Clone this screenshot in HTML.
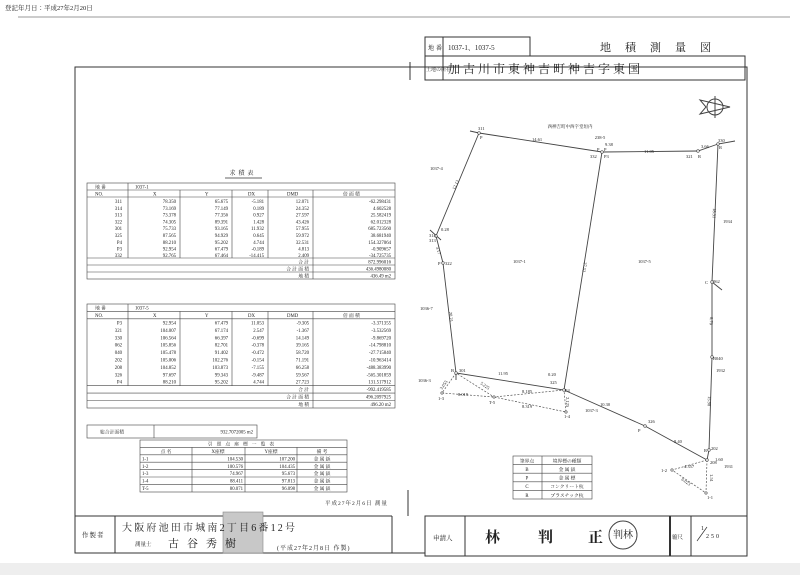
<!DOCTYPE html>
<html><head><meta charset="utf-8"><style>
html,body{margin:0;padding:0;background:#fff}
svg{display:block}
text{font-family:"Liberation Serif","Noto Serif CJK SC",serif;fill:#222}
.j{font-family:"Liberation Serif","Noto Serif CJK JP","Noto Sans CJK JP",serif}
</style></head><body>
<svg width="800" height="575" viewBox="0 0 800 575" xmlns="http://www.w3.org/2000/svg">
<rect x="0" y="563" width="800" height="12" fill="#eeeeee"/>
<text x="5" y="10" font-size="6.5" class="j">登記年月日：平成27年2月20日</text>
<line x1="18" y1="17" x2="790" y2="17" stroke="#999" stroke-width="1"/>

<!-- header -->
<g stroke="#333" stroke-width="1" fill="none">
<rect x="425" y="37" width="105" height="19"/>
<line x1="443" y1="37" x2="443" y2="80"/>
<rect x="425" y="56" width="320" height="24"/>
<line x1="410" y1="62" x2="410" y2="80"/>
<rect x="75" y="67" width="672" height="486"/>
<line x1="75" y1="516" x2="392" y2="516"/>
<line x1="392" y1="516" x2="392" y2="553"/>
<line x1="115" y1="516" x2="115" y2="553"/>
<line x1="408" y1="490" x2="408" y2="516"/>
<rect x="425" y="516" width="322" height="40" fill="#fff"/>
<line x1="465" y1="516" x2="465" y2="556"/>
<line x1="670" y1="516" x2="670" y2="556" stroke-width="2"/>
<line x1="691" y1="516" x2="691" y2="556"/>
</g>
<text x="428" y="50" font-size="6" class="j">地</text><text x="436" y="50" font-size="6" class="j">番</text>
<text x="448" y="50" font-size="7">1037-1、1037-5</text>
<text x="600" y="51" font-size="11" class="j" letter-spacing="14">地積測量図</text>
<text x="426" y="71" font-size="5" class="j">土地の所在</text>
<text x="448" y="73" font-size="12" class="j" letter-spacing="3">加古川市東神吉町神吉字東国</text>

<!-- compass -->
<g stroke="#444" stroke-width="1" fill="none">
<circle cx="715" cy="107" r="8"/>
<path d="M700 100 L730 107 L700 114 L706 107 Z"/>
<line x1="715" y1="96" x2="715" y2="118"/>
</g>

<!-- table 1 -->
<text x="243" y="175" font-size="6" class="j" text-anchor="middle" letter-spacing="3">求積表</text>
<line x1="225" y1="178" x2="262" y2="178" stroke="#333" stroke-width="0.8"/>
<g stroke="#444" stroke-width="0.6" fill="none">
<rect x="87" y="183" width="308" height="96"/>
<line x1="87" y1="190" x2="395" y2="190"/>
<line x1="87" y1="197" x2="395" y2="197"/>
<line x1="87" y1="258" x2="395" y2="258"/>
<line x1="87" y1="265" x2="395" y2="265"/>
<line x1="87" y1="272" x2="395" y2="272"/>
<line x1="128" y1="183" x2="128" y2="258"/>
<line x1="180" y1="190" x2="180" y2="258"/>
<line x1="232" y1="190" x2="232" y2="258"/>
<line x1="268" y1="190" x2="268" y2="258"/>
<line x1="313" y1="190" x2="313" y2="279"/>
</g>
<g font-size="4.8">
<text x="95" y="188.5" class="j">地 番</text><text x="135" y="188.5">1037-1</text>
<text x="95" y="195.5">NO.</text><text x="153" y="195.5">X</text><text x="205" y="195.5">Y</text><text x="248" y="195.5">DX</text><text x="287" y="195.5">DMD</text><text x="343" y="195.5" class="j">倍 面 積</text>
</g>
<g font-size="4.8" text-anchor="end">
<text x="122" y="203">311</text><text x="176" y="203">78.350</text><text x="228" y="203">65.675</text><text x="264" y="203">-5.181</text><text x="309" y="203">12.071</text><text x="391" y="203">-62.298431</text>
<text x="122" y="209.8">314</text><text x="176" y="209.8">73.169</text><text x="228" y="209.8">77.149</text><text x="264" y="209.8">0.189</text><text x="309" y="209.8">24.352</text><text x="391" y="209.8">4.602528</text>
<text x="122" y="216.6">313</text><text x="176" y="216.6">73.378</text><text x="228" y="216.6">77.356</text><text x="264" y="216.6">0.927</text><text x="309" y="216.6">27.597</text><text x="391" y="216.6">25.582419</text>
<text x="122" y="223.4">322</text><text x="176" y="223.4">74.305</text><text x="228" y="223.4">89.391</text><text x="264" y="223.4">1.428</text><text x="309" y="223.4">43.426</text><text x="391" y="223.4">62.012328</text>
<text x="122" y="230.2">301</text><text x="176" y="230.2">75.733</text><text x="228" y="230.2">93.165</text><text x="264" y="230.2">11.932</text><text x="309" y="230.2">57.955</text><text x="391" y="230.2">685.723560</text>
<text x="122" y="237">325</text><text x="176" y="237">87.565</text><text x="228" y="237">94.929</text><text x="264" y="237">0.645</text><text x="309" y="237">59.972</text><text x="391" y="237">38.681940</text>
<text x="122" y="243.8">P4</text><text x="176" y="243.8">88.210</text><text x="228" y="243.8">95.202</text><text x="264" y="243.8">4.744</text><text x="309" y="243.8">32.531</text><text x="391" y="243.8">154.327064</text>
<text x="122" y="250.6">P3</text><text x="176" y="250.6">92.954</text><text x="228" y="250.6">67.479</text><text x="264" y="250.6">-0.189</text><text x="309" y="250.6">4.813</text><text x="391" y="250.6">-0.909657</text>
<text x="122" y="257.2">332</text><text x="176" y="257.2">92.765</text><text x="228" y="257.2">67.464</text><text x="264" y="257.2">-14.415</text><text x="309" y="257.2">2.409</text><text x="391" y="257.2">-34.725735</text>
<text x="309" y="263.5" class="j">合 計</text><text x="391" y="263.5">872.996016</text>
<text x="309" y="270.5" class="j">合 計 面 積</text><text x="391" y="270.5">436.4980080</text>
<text x="309" y="277.5" class="j">地 積</text><text x="391" y="277.5">436.49 m2</text>
</g>

<!-- table 2 -->
<g stroke="#444" stroke-width="0.6" fill="none">
<rect x="87" y="304" width="308" height="104"/>
<line x1="87" y1="311.4" x2="395" y2="311.4"/>
<line x1="87" y1="318.8" x2="395" y2="318.8"/>
<line x1="87" y1="385.7" x2="395" y2="385.7"/>
<line x1="87" y1="393.1" x2="395" y2="393.1"/>
<line x1="87" y1="400.5" x2="395" y2="400.5"/>
<line x1="128" y1="304" x2="128" y2="385.7"/>
<line x1="180" y1="311.4" x2="180" y2="385.7"/>
<line x1="232" y1="311.4" x2="232" y2="385.7"/>
<line x1="268" y1="311.4" x2="268" y2="385.7"/>
<line x1="313" y1="311.4" x2="313" y2="408"/>
<rect x="87" y="425" width="170" height="13"/>
<line x1="154" y1="425" x2="154" y2="438"/>
</g>
<g font-size="4.8">
<text x="95" y="309.5" class="j">地 番</text><text x="135" y="309.5">1037-5</text>
<text x="95" y="317">NO.</text><text x="153" y="317">X</text><text x="205" y="317">Y</text><text x="248" y="317">DX</text><text x="287" y="317">DMD</text><text x="343" y="317" class="j">倍 面 積</text>
<text x="100" y="433.5" class="j">総合計面積</text>
</g>
<g font-size="4.8" text-anchor="end">
<text x="122" y="324.5">P3</text><text x="176" y="324.5">92.954</text><text x="228" y="324.5">67.479</text><text x="264" y="324.5">11.053</text><text x="309" y="324.5">-9.305</text><text x="391" y="324.5">-3.371355</text>
<text x="122" y="331.9">321</text><text x="176" y="331.9">104.007</text><text x="228" y="331.9">67.174</text><text x="264" y="331.9">2.547</text><text x="309" y="331.9">-1.367</text><text x="391" y="331.9">-3.532569</text>
<text x="122" y="339.3">330</text><text x="176" y="339.3">106.564</text><text x="228" y="339.3">66.397</text><text x="264" y="339.3">-0.699</text><text x="309" y="339.3">14.149</text><text x="391" y="339.3">-9.869720</text>
<text x="122" y="346.7">062</text><text x="176" y="346.7">105.856</text><text x="228" y="346.7">82.701</text><text x="264" y="346.7">-0.378</text><text x="309" y="346.7">39.165</text><text x="391" y="346.7">-14.798810</text>
<text x="122" y="354.1">040</text><text x="176" y="354.1">105.478</text><text x="228" y="354.1">91.402</text><text x="264" y="354.1">-0.472</text><text x="309" y="354.1">58.720</text><text x="391" y="354.1">-27.715840</text>
<text x="122" y="361.5">202</text><text x="176" y="361.5">105.006</text><text x="228" y="361.5">102.276</text><text x="264" y="361.5">-0.154</text><text x="309" y="361.5">71.191</text><text x="391" y="361.5">-10.963414</text>
<text x="122" y="368.9">208</text><text x="176" y="368.9">104.852</text><text x="228" y="368.9">103.873</text><text x="264" y="368.9">-7.155</text><text x="309" y="368.9">66.258</text><text x="391" y="368.9">-488.383990</text>
<text x="122" y="376.3">326</text><text x="176" y="376.3">97.697</text><text x="228" y="376.3">99.343</text><text x="264" y="376.3">-9.487</text><text x="309" y="376.3">59.567</text><text x="391" y="376.3">-565.301859</text>
<text x="122" y="383.7">P4</text><text x="176" y="383.7">88.210</text><text x="228" y="383.7">95.202</text><text x="264" y="383.7">4.744</text><text x="309" y="383.7">27.723</text><text x="391" y="383.7">131.517912</text>
<text x="309" y="391" class="j">合 計</text><text x="391" y="391">-992.419585</text>
<text x="309" y="398.4" class="j">合 計 面 積</text><text x="391" y="398.4">496.2097925</text>
<text x="309" y="405.8" class="j">地 積</text><text x="391" y="405.8">496.20 m2</text>
<text x="253" y="433.5">932.7072005 m2</text>
</g>

<!-- reference table -->
<g stroke="#444" stroke-width="0.6" fill="none">
<rect x="140" y="440" width="207" height="52"/>
<line x1="140" y1="447.4" x2="347" y2="447.4"/>
<line x1="140" y1="454.8" x2="347" y2="454.8"/>
<line x1="140" y1="462.2" x2="347" y2="462.2"/>
<line x1="140" y1="469.6" x2="347" y2="469.6"/>
<line x1="140" y1="477" x2="347" y2="477"/>
<line x1="140" y1="484.4" x2="347" y2="484.4"/>
<line x1="192" y1="447.4" x2="192" y2="492"/>
<line x1="245" y1="447.4" x2="245" y2="492"/>
<line x1="297" y1="447.4" x2="297" y2="492"/>
</g>
<g font-size="4.8" class="j">
<text x="243" y="445.6" text-anchor="middle" letter-spacing="4">引照点座標一覧表</text>
<text x="166" y="453" text-anchor="middle">点 名</text><text x="218" y="453" text-anchor="middle">X座標</text><text x="271" y="453" text-anchor="middle">Y座標</text><text x="322" y="453" text-anchor="middle">備 考</text>
<text x="142" y="460.4">1-1</text><text x="142" y="467.8">1-2</text><text x="142" y="475.2">1-3</text><text x="142" y="482.6">1-4</text><text x="142" y="490">T-5</text>
<g text-anchor="end">
<text x="243" y="460.4">104.530</text><text x="295" y="460.4">107.200</text>
<text x="243" y="467.8">100.576</text><text x="295" y="467.8">104.435</text>
<text x="243" y="475.2">74.967</text><text x="295" y="475.2">95.673</text>
<text x="243" y="482.6">88.411</text><text x="295" y="482.6">97.813</text>
<text x="243" y="490">80.071</text><text x="295" y="490">96.098</text>
</g>
<text x="322" y="460.4" text-anchor="middle">金 属 鋲</text><text x="322" y="467.8" text-anchor="middle">金 属 鋲</text><text x="322" y="475.2" text-anchor="middle">金 属 鋲</text><text x="322" y="482.6" text-anchor="middle">金 属 鋲</text><text x="322" y="490" text-anchor="middle">金 属 鋲</text>
</g>
<text x="325" y="505" font-size="5.5" class="j" letter-spacing="1">平成27年2月6日 測量</text>

<!-- bottom left block -->
<text x="82" y="537" font-size="6.5" class="j" letter-spacing="1">作製者</text>
<rect x="223" y="512" width="40" height="41" fill="#c8c8c8" stroke="#888" stroke-width="0.6"/>
<text x="122" y="531" font-size="10" class="j" letter-spacing="2.2">大阪府池田市城南2丁目6番12号</text>
<text x="135" y="546" font-size="5.5" class="j">測量士</text>
<text x="168" y="547" font-size="11" class="j" letter-spacing="8">古谷秀樹</text>
<text x="277" y="550" font-size="6" class="j" letter-spacing="1">(平成27年2月8日 作製)</text>

<!-- bottom right block -->
<text x="433" y="540" font-size="6.5" class="j">申請人</text>
<text x="485" y="542" font-size="15" class="j" font-weight="bold">林</text>
<text x="538" y="542" font-size="15" class="j" font-weight="bold">判</text>
<text x="588" y="542" font-size="15" class="j" font-weight="bold">正</text>
<circle cx="623" cy="535" r="14" fill="none" stroke="#444" stroke-width="1"/>
<text x="623" y="538" font-size="10" class="j" text-anchor="middle">判林</text>
<text x="672" y="539" font-size="5.5" class="j">縮尺</text>
<text x="701" y="530" font-size="6">1</text>
<line x1="697" y1="541" x2="707" y2="527" stroke="#333" stroke-width="0.7"/>
<text x="706" y="538" font-size="6" letter-spacing="2">250</text>

<!-- plot lines -->
<g stroke="#444" stroke-width="0.9" fill="none">
<polyline points="470,131 479,133 602,152 698,151 718,144 735,141"/>
<polyline points="479,133 436,236 443,263 456,373 564,390 645,426 707,460"/>
<line x1="602" y1="152" x2="564" y2="390"/>
<polyline points="718,144 712,282 712,357 709,450 707,460"/>
<line x1="712" y1="282" x2="722" y2="290"/>
<line x1="430" y1="230" x2="441" y2="240"/>
<line x1="456" y1="373" x2="456" y2="380"/>
</g>
<g stroke="#555" stroke-width="0.7" fill="none" stroke-dasharray="2,1.5">
<polyline points="456,373 442,393 494,397 566,412 564,390 494,397 456,373"/>
<polyline points="707,460 672,470 706,493 707,460"/>
</g>
<g fill="#fff" stroke="#444" stroke-width="0.6">
<circle cx="479" cy="133" r="1.3"/><circle cx="602" cy="152" r="1.3"/><circle cx="698" cy="151" r="1.3"/><circle cx="718" cy="144" r="1.3"/>
<circle cx="436" cy="236" r="1.3"/><circle cx="443" cy="263" r="1.3"/><circle cx="456" cy="373" r="1.3"/><circle cx="564" cy="390" r="1.3"/>
<circle cx="645" cy="426" r="1.3"/><circle cx="712" cy="282" r="1.3"/><circle cx="712" cy="357" r="1.3"/><circle cx="709" cy="450" r="1.3"/><circle cx="707" cy="460" r="1.3"/>
<circle cx="442" cy="393" r="1.2"/><circle cx="494" cy="397" r="1.2"/><circle cx="566" cy="412" r="1.2"/><circle cx="672" cy="470" r="1.2"/><circle cx="706" cy="493" r="1.2"/>
</g>
<g font-size="4.5">
<text x="570" y="128" text-anchor="middle" class="j">西神吉町中西字堂垣内</text>
<text x="600" y="139" text-anchor="middle">238-5</text>
<text x="478" y="130">311</text><text x="480" y="139">P</text>
<text x="532" y="141">14.61</text><text x="605" y="146">9.38</text><text x="644" y="153">11.05</text><text x="701" y="148">3.66</text>
<text x="590" y="158">332</text><text x="597" y="151">P</text><text x="604" y="151">P</text><text x="604" y="158">P3</text>
<text x="686" y="158">321</text><text x="698" y="158">R</text><text x="718" y="142">330</text><text x="719" y="149">R</text>
<text x="430" y="170">1037-4</text><text x="441" y="231">0.28</text><text x="429" y="237">314</text><text x="429" y="242">313</text>
<text x="438" y="265">P</text><text x="445" y="265">322</text>
<text x="513" y="263">1037-1</text><text x="638" y="263">1037-5</text><text x="723" y="223">1934</text>
<text x="705" y="284">C</text><text x="713" y="283">062</text>
<text x="420" y="310">1036-7</text><text x="713" y="360">B</text><text x="716" y="360">040</text>
<text x="716" y="372">1932</text><text x="418" y="382">1036-3</text>
<text x="451" y="372">B</text><text x="459" y="372">301</text>
<text x="498" y="375">11.95</text><text x="548" y="376">0.20</text><text x="550" y="384">325</text><text x="565" y="392">P4</text>
<text x="522" y="393">8.185</text><text x="458" y="396">8.019</text><text x="522" y="408">8.319</text>
<text x="438" y="400">1-3</text><text x="489" y="404">T-5</text><text x="564" y="418">1-4</text>
<text x="585" y="412">1037-3</text><text x="600" y="406">10.30</text>
<text x="638" y="432">P</text><text x="648" y="423">326</text><text x="674" y="443">8.40</text>
<text x="704" y="452">R</text><text x="711" y="450">202</text><text x="715" y="461">1.60</text><text x="724" y="468">1931</text>
<text x="684" y="468">4.357</text><text x="661" y="472">1-2</text><text x="707" y="499">1-1</text><text x="710" y="464">208</text>
</g>
<g font-size="4.5">
<text transform="translate(455,190) rotate(-66)">12.12</text>
<text transform="translate(436,247) rotate(75)">3.17</text>
<text transform="translate(449,312) rotate(84)">20.21</text>
<text transform="translate(584,262) rotate(99)">27.52</text>
<text transform="translate(713,208) rotate(92)">18.31</text>
<text transform="translate(710,317) rotate(92)">8.70</text>
<text transform="translate(708,396) rotate(92)">15.98</text>
<text transform="translate(480,384) rotate(35)">5.225</text>
<text transform="translate(442,390) rotate(-55)">3.055</text>
<text transform="translate(566,397) rotate(90)">2.125</text>
<text transform="translate(681,480) rotate(35)">6.023</text>
<text transform="translate(710,474) rotate(90)">1.51</text>
</g>

<!-- legend -->
<g stroke="#444" stroke-width="0.6" fill="none">
<rect x="513" y="456" width="79" height="43"/>
<line x1="513" y1="464.6" x2="592" y2="464.6"/>
<line x1="513" y1="473.2" x2="592" y2="473.2"/>
<line x1="513" y1="481.8" x2="592" y2="481.8"/>
<line x1="513" y1="490.4" x2="592" y2="490.4"/>
<line x1="542" y1="456" x2="542" y2="499"/>
</g>
<g font-size="4.8" class="j">
<text x="527" y="462.5" text-anchor="middle">筆界点</text><text x="567" y="462.5" text-anchor="middle">境界標の種類</text>
<text x="527" y="471" text-anchor="middle">B</text><text x="567" y="471" text-anchor="middle">金 属 鋲</text>
<text x="527" y="479.6" text-anchor="middle">P</text><text x="567" y="479.6" text-anchor="middle">金 属 標</text>
<text x="527" y="488.2" text-anchor="middle">C</text><text x="567" y="488.2" text-anchor="middle">コンクリート杭</text>
<text x="527" y="496.8" text-anchor="middle">R</text><text x="567" y="496.8" text-anchor="middle">プラスチック杭</text>
</g>
</svg>
</body></html>
